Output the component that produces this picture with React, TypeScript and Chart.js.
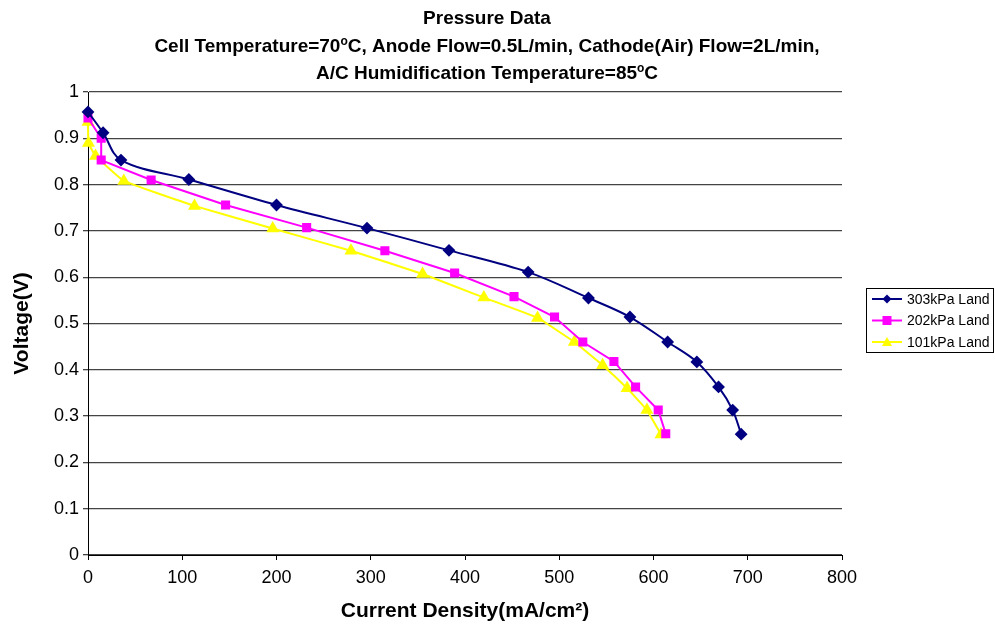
import React, { useEffect, useRef } from 'react';
import { Chart, registerables } from 'chart.js';

Chart.register(...registerables);

const seriesNames = ['303kPa Land', '202kPa Land', '101kPa Land'];
const seriesColors = ['#000080', '#FF00FF', '#FFFF00'];

const current303 = [0, 16, 35, 107, 200, 296, 383, 467, 531, 575, 615, 646, 669, 684, 693];
const voltage303 = [0.957, 0.912, 0.853, 0.811, 0.756, 0.706, 0.658, 0.611, 0.555, 0.514, 0.46, 0.417, 0.363, 0.313, 0.261];

const current202 = [0, 14, 14, 67, 146, 232, 315, 389, 452, 495, 525, 558, 581, 605, 613];
const voltage202 = [0.944, 0.9, 0.853, 0.81, 0.756, 0.707, 0.657, 0.609, 0.558, 0.514, 0.46, 0.418, 0.363, 0.313, 0.262];

const current101 = [0, 0.5, 8, 38, 113, 196, 279, 355, 420, 477, 516, 546, 572, 593, 608];
const voltage101 = [0.935, 0.89, 0.862, 0.808, 0.754, 0.705, 0.657, 0.607, 0.556, 0.512, 0.46, 0.41, 0.36, 0.313, 0.26];

const titleLines = [
  [{ t: 'Pressure Data' }],
  [{ t: 'Cell Temperature=70' }, { t: 'o', sup: true }, { t: 'C, Anode Flow=0.5L/min, Cathode(Air) Flow=2L/min,' }],
  [{ t: 'A/C Humidification Temperature=85' }, { t: 'o', sup: true }, { t: 'C' }],
];
const xAxisTitle = 'Current Density(mA/cm²)';
const yAxisTitle = 'Voltage(V)';

const FONT = '"Liberation Sans", Arial, sans-serif';

const toPoints = (xs: number[], ys: number[]) => xs.map((x, i) => ({ x, y: ys[i] }));

const titlePlugin = {
  id: 'richTitle',
  afterDraw(chart: any) {
    const ctx = chart.ctx;
    ctx.save();
    ctx.fillStyle = '#000';
    ctx.textBaseline = 'alphabetic';
    const cx = 487;
    const baselines = [24, 52, 79];
    const mainFont = `bold 19px ${FONT}`;
    const supFont = `bold 12px ${FONT}`;
    titleLines.forEach((line: any[], li) => {
      let w = 0;
      line.forEach((s) => {
        ctx.font = s.sup ? supFont : mainFont;
        w += ctx.measureText(s.t).width;
      });
      let x = cx - w / 2;
      line.forEach((s) => {
        ctx.font = s.sup ? supFont : mainFont;
        ctx.textAlign = 'left';
        ctx.fillText(s.t, x, baselines[li] - (s.sup ? 7 : 0));
        x += ctx.measureText(s.t).width;
      });
    });
    ctx.restore();
  },
};

const legendPlugin = {
  id: 'boxLegend',
  afterDraw(chart: any) {
    const ctx = chart.ctx;
    ctx.save();
    const bx = 866.5, by = 288.5, bw = 127, bh = 64;
    ctx.strokeStyle = '#000';
    ctx.lineWidth = 1;
    ctx.strokeRect(bx, by, bw, bh);
    ctx.font = `14px ${FONT}`;
    ctx.textBaseline = 'middle';
    ctx.textAlign = 'left';
    chart.data.datasets.forEach((ds: any, i: number) => {
      const y = 299 + i * 21.5;
      ctx.strokeStyle = ds.borderColor;
      ctx.lineWidth = 2;
      ctx.beginPath();
      ctx.moveTo(872, y);
      ctx.lineTo(902, y);
      ctx.stroke();
      ctx.fillStyle = ds.backgroundColor;
      const mx = 887;
      ctx.beginPath();
      if (ds.pointStyle === 'rectRot') {
        const r = 4.5;
        ctx.moveTo(mx, y - r); ctx.lineTo(mx + r, y); ctx.lineTo(mx, y + r); ctx.lineTo(mx - r, y);
      } else if (ds.pointStyle === 'rect') {
        ctx.rect(mx - 4.5, y - 4.5, 9, 9);
      } else {
        ctx.moveTo(mx, y - 5); ctx.lineTo(mx + 5, y + 4); ctx.lineTo(mx - 5, y + 4);
      }
      ctx.closePath();
      ctx.fill();
      ctx.fillStyle = '#000';
      ctx.fillText(ds.label, 907, y + 1);
    });
    ctx.restore();
  },
};

export default function App() {
  const ref = useRef<HTMLCanvasElement | null>(null);
  useEffect(() => {
    if (!ref.current) return;
    const chart = new Chart(ref.current, {
      type: 'scatter',
      data: {
        datasets: [
          {
            label: seriesNames[0],
            data: toPoints(current303, voltage303),
            borderColor: seriesColors[0],
            backgroundColor: seriesColors[0],
            pointStyle: 'rectRot',
            pointRadius: 5,
            borderWidth: 2,
            showLine: true,
            tension: 0.35,
            clip: false,
          },
          {
            label: seriesNames[1],
            data: toPoints(current202, voltage202),
            borderColor: seriesColors[1],
            backgroundColor: seriesColors[1],
            pointStyle: 'rect',
            pointRadius: 5,
            borderWidth: 2,
            showLine: true,
            tension: 0,
            clip: false,
          },
          {
            label: seriesNames[2],
            data: toPoints(current101, voltage101),
            borderColor: seriesColors[2],
            backgroundColor: seriesColors[2],
            pointStyle: 'triangle',
            pointRadius: 5.5,
            borderWidth: 2,
            showLine: true,
            tension: 0.1,
            clip: false,
          },
        ],
      } as any,
      options: {
        animation: false,
        responsive: false,
        layout: { padding: { top: 92, right: 153, left: 0, bottom: 0 } },
        plugins: {
          legend: { display: false },
          title: { display: false },
          tooltip: { enabled: false },
        },
        scales: {
          x: {
            type: 'linear',
            min: 0,
            max: 800,
            afterFit: (s: any) => { s.height = 69; },
            ticks: { stepSize: 100, color: '#000', font: { family: FONT, size: 18 }, padding: 7, maxRotation: 0 },
            grid: { drawOnChartArea: false, drawTicks: true, tickLength: 5, color: '#000' },
            border: { color: '#000', width: 1 },
            title: { display: true, text: xAxisTitle, color: '#000', font: { family: FONT, size: 21, weight: 'bold' }, padding: { top: 0, bottom: 0 } },
          },
          y: {
            type: 'linear',
            min: 0,
            max: 1,
            afterFit: (s: any) => { s.width = 88; },
            ticks: {
              stepSize: 0.1,
              color: '#000',
              font: { family: FONT, size: 18 },
              padding: 4,
              callback: (v: any) => String(Math.round(Number(v) * 10) / 10),
            },
            grid: { color: '#444', lineWidth: 1.3, drawTicks: true, tickLength: 5 },
            border: { color: '#000', width: 1 },
            title: { display: true, text: yAxisTitle, color: '#000', font: { family: FONT, size: 21, weight: 'bold' }, padding: { top: 10, bottom: 0 } },
          },
        },
      } as any,
      plugins: [titlePlugin, legendPlugin],
    });
    return () => chart.destroy();
  }, []);
  return (
    <div style={{ position: 'absolute', left: 0, top: 0, width: 995, height: 624, background: '#fff' }}>
      <canvas ref={ref} width={995} height={624} style={{ width: 995, height: 624, display: 'block' }} />
    </div>
  );
}
